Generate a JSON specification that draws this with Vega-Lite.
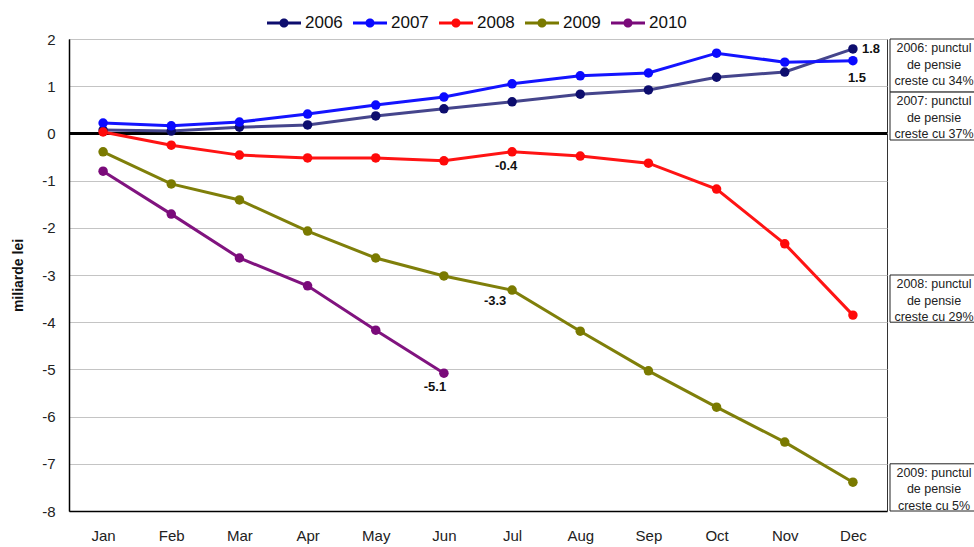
{
  "$schema": "https://vega.github.io/schema/vega-lite/v6.json",
  "background": "white",
  "padding": {"left": 11, "top": 5, "right": 0, "bottom": 0},
  "config": {
    "font": "Liberation Sans",
    "locale": {"number": {"decimal": ".", "thousands": ",", "grouping": [3], "currency": ["", ""], "minus": "-"}},
    "concat": {"spacing": 0},
    "view": {"stroke": "#333", "strokeWidth": 1}
  },
  "datasets": {
    "balance": [
      {"year": "2006", "month": "Jan", "value": 0.07},
      {"year": "2006", "month": "Feb", "value": 0.05},
      {"year": "2006", "month": "Mar", "value": 0.13},
      {"year": "2006", "month": "Apr", "value": 0.18},
      {"year": "2006", "month": "May", "value": 0.37},
      {"year": "2006", "month": "Jun", "value": 0.52},
      {"year": "2006", "month": "Jul", "value": 0.67},
      {"year": "2006", "month": "Aug", "value": 0.83},
      {"year": "2006", "month": "Sep", "value": 0.92},
      {"year": "2006", "month": "Oct", "value": 1.19},
      {"year": "2006", "month": "Nov", "value": 1.3},
      {"year": "2006", "month": "Dec", "value": 1.79},
      {"year": "2007", "month": "Jan", "value": 0.22},
      {"year": "2007", "month": "Feb", "value": 0.16},
      {"year": "2007", "month": "Mar", "value": 0.24},
      {"year": "2007", "month": "Apr", "value": 0.41},
      {"year": "2007", "month": "May", "value": 0.6},
      {"year": "2007", "month": "Jun", "value": 0.77},
      {"year": "2007", "month": "Jul", "value": 1.05},
      {"year": "2007", "month": "Aug", "value": 1.22},
      {"year": "2007", "month": "Sep", "value": 1.28},
      {"year": "2007", "month": "Oct", "value": 1.7},
      {"year": "2007", "month": "Nov", "value": 1.51},
      {"year": "2007", "month": "Dec", "value": 1.54},
      {"year": "2008", "month": "Jan", "value": 0.03},
      {"year": "2008", "month": "Feb", "value": -0.25},
      {"year": "2008", "month": "Mar", "value": -0.46},
      {"year": "2008", "month": "Apr", "value": -0.52},
      {"year": "2008", "month": "May", "value": -0.52},
      {"year": "2008", "month": "Jun", "value": -0.58},
      {"year": "2008", "month": "Jul", "value": -0.39},
      {"year": "2008", "month": "Aug", "value": -0.48},
      {"year": "2008", "month": "Sep", "value": -0.63},
      {"year": "2008", "month": "Oct", "value": -1.18},
      {"year": "2008", "month": "Nov", "value": -2.34},
      {"year": "2008", "month": "Dec", "value": -3.85},
      {"year": "2009", "month": "Jan", "value": -0.39},
      {"year": "2009", "month": "Feb", "value": -1.07},
      {"year": "2009", "month": "Mar", "value": -1.41},
      {"year": "2009", "month": "Apr", "value": -2.07},
      {"year": "2009", "month": "May", "value": -2.64},
      {"year": "2009", "month": "Jun", "value": -3.02},
      {"year": "2009", "month": "Jul", "value": -3.32},
      {"year": "2009", "month": "Aug", "value": -4.19},
      {"year": "2009", "month": "Sep", "value": -5.03},
      {"year": "2009", "month": "Oct", "value": -5.8},
      {"year": "2009", "month": "Nov", "value": -6.54},
      {"year": "2009", "month": "Dec", "value": -7.39},
      {"year": "2010", "month": "Jan", "value": -0.8},
      {"year": "2010", "month": "Feb", "value": -1.71},
      {"year": "2010", "month": "Mar", "value": -2.64},
      {"year": "2010", "month": "Apr", "value": -3.23},
      {"year": "2010", "month": "May", "value": -4.17},
      {"year": "2010", "month": "Jun", "value": -5.08}
    ],
    "notes": [
      {"note": "2006: punctul|de pensie|creste cu 34%", "from": 2, "to": 0.875},
      {"note": "2007: punctul|de pensie|creste cu 37%", "from": 0.875, "to": -0.14},
      {"note": "2008: punctul|de pensie|creste cu 29%", "from": -3, "to": -4},
      {"note": "2009: punctul|de pensie|creste cu 5%", "from": -7, "to": -8}
    ]
  },
  "hconcat": [
    {
      "width": 818,
      "height": 472,
      "data": {"name": "balance"},
      "encoding": {
        "x": {
          "field": "month",
          "type": "ordinal",
          "sort": ["Jan", "Feb", "Mar", "Apr", "May", "Jun", "Jul", "Aug", "Sep", "Oct", "Nov", "Dec"],
          "scale": {"type": "point", "padding": 0.5},
          "axis": {
            "title": null, "labelAngle": 0, "ticks": false, "grid": false,
            "domainColor": "#000", "domainWidth": 1.5,
            "labelFontSize": 15, "labelColor": "#222", "labelPadding": 17
          }
        },
        "y": {
          "field": "value",
          "type": "quantitative",
          "scale": {"domain": [-8, 2], "nice": false, "zero": false},
          "axis": {
            "title": "miliarde lei", "titleFontSize": 14, "titleFontWeight": "bold",
            "titleColor": "#111", "titlePadding": 16,
            "values": [-8, -7, -6, -5, -4, -3, -2, -1, 0, 1, 2],
            "ticks": false, "labelFontSize": 15, "labelColor": "#222", "labelPadding": 14,
            "grid": true, "gridColor": "#c4c4c4", "gridWidth": 1,
            "domainColor": "#000", "domainWidth": 1.5
          }
        }
      },
      "layer": [
        {
          "mark": {"type": "rule", "color": "#000", "strokeWidth": 2},
          "encoding": {"y": {"datum": 0}, "x": null}
        },
        {
          "mark": {"type": "line", "strokeWidth": 3},
          "encoding": {
            "color": {
              "field": "year", "type": "nominal", "legend": null,
              "scale": {"domain": ["2006", "2007", "2008", "2009", "2010"],
                        "range": ["#45458c", "#1414ff", "#ff1414", "#7f7f0a", "#80137f"]}
            }
          }
        },
        {
          "mark": {"type": "point", "filled": true, "size": 90, "opacity": 1},
          "encoding": {
            "color": {
              "field": "year", "type": "nominal",
              "scale": {"domain": ["2006", "2007", "2008", "2009", "2010"],
                        "range": ["#0d0d6e", "#0a0aff", "#ff0a0a", "#7a7a00", "#7a0a7a"]},
              "legend": {
                "orient": "none", "legendX": 198, "legendY": -33,
                "direction": "horizontal", "columns": 5, "title": null,
                "symbolType": "M-1,-0.09L1,-0.09L1,0.09L-1,0.09Z M0.27,0A0.27,0.27,0,1,1,-0.27,0A0.27,0.27,0,1,1,0.27,0Z",
                "symbolSize": 1156, "symbolStrokeWidth": 0,
                "labelFontSize": 17, "labelColor": "#111", "labelOffset": 4,
                "columnPadding": 10
              }
            }
          }
        },
        {
          "transform": [{"filter": "datum.year == '2006' && datum.month == 'Dec'"}],
          "mark": {"type": "text", "fontWeight": "bold", "fontSize": 13, "align": "left", "dx": 9, "dy": 0, "color": "#111"},
          "encoding": {"text": {"field": "value", "format": ".1f"}}
        },
        {
          "transform": [{"filter": "datum.year == '2007' && datum.month == 'Dec'"}],
          "mark": {"type": "text", "fontWeight": "bold", "fontSize": 13, "dx": 4, "dy": 17, "color": "#111"},
          "encoding": {"text": {"field": "value", "format": ".1f"}}
        },
        {
          "transform": [{"filter": "datum.year == '2008' && datum.month == 'Jul'"}],
          "mark": {"type": "text", "fontWeight": "bold", "fontSize": 13, "dx": -6, "dy": 14, "color": "#111"},
          "encoding": {"text": {"field": "value", "format": ".1f"}}
        },
        {
          "transform": [{"filter": "datum.year == '2009' && datum.month == 'Jul'"}],
          "mark": {"type": "text", "fontWeight": "bold", "fontSize": 13, "dx": -17, "dy": 11, "color": "#111"},
          "encoding": {"text": {"field": "value", "format": ".1f"}}
        },
        {
          "transform": [{"filter": "datum.year == '2010' && datum.month == 'Jun'"}],
          "mark": {"type": "text", "fontWeight": "bold", "fontSize": 13, "dx": -9, "dy": 14, "color": "#111"},
          "encoding": {"text": {"field": "value", "format": ".1f"}}
        }
      ],
      "resolve": {"scale": {"color": "independent"}, "legend": {"color": "independent"}}
    },
    {
      "width": 88,
      "height": 472,
      "view": {"stroke": null},
      "data": {"name": "notes"},
      "layer": [
        {
          "mark": {"type": "rect", "fill": "white", "stroke": "#222", "strokeWidth": 1},
          "encoding": {
            "y": {"field": "from", "type": "quantitative", "scale": {"domain": [-8, 2], "nice": false, "zero": false}, "axis": null},
            "y2": {"field": "to"}
          }
        },
        {
          "mark": {"type": "text", "fontSize": 12.5, "color": "#222", "baseline": "top", "align": "center", "dy": 3, "lineBreak": "|", "lineHeight": 16.5},
          "encoding": {
            "y": {"field": "from", "type": "quantitative", "scale": {"domain": [-8, 2], "nice": false, "zero": false}, "axis": null},
            "text": {"field": "note"}
          }
        }
      ]
    }
  ]
}
